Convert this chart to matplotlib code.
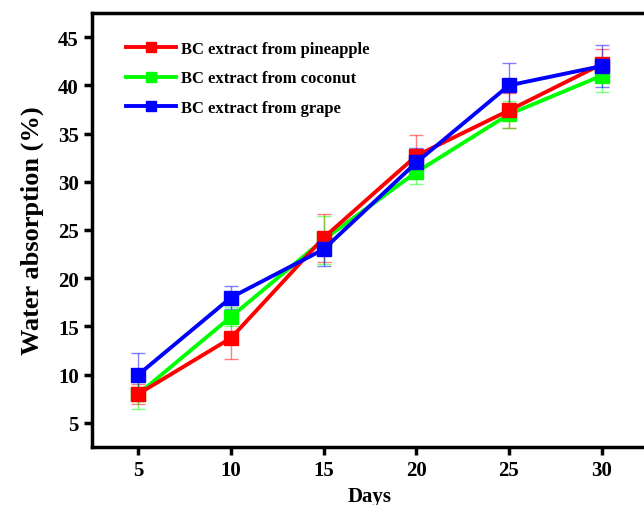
import matplotlib
matplotlib.use('Agg')
import matplotlib.pyplot as plt

days = [5, 10, 15, 20, 25, 30]

pineapple = [8.0, 13.8, 24.2, 32.7, 37.4, 42.2]
pineapple_err = [1.0, 2.2, 2.5, 2.2, 1.8, 1.6]

coconut = [8.0, 16.0, 24.0, 31.0, 37.0, 41.0]
coconut_err = [1.6, 1.0, 2.5, 1.2, 1.4, 1.7]

grape = [10.0, 18.0, 23.0, 32.0, 40.0, 42.0]
grape_err = [2.2, 1.2, 1.7, 1.5, 2.3, 2.2]

plt.rcParams['font.family'] = ['Liberation Serif', 'DejaVu Serif']
plt.rcParams['font.weight'] = 'bold'

fig = plt.figure(figsize=(6.44, 5.06), dpi=100)
ax = fig.add_axes([92 / 644, 58 / 506, 556 / 644, 434 / 506])

series = [
    ('BC extract from pineapple', pineapple, pineapple_err, '#ff0000'),
    ('BC extract from coconut', coconut, coconut_err, '#00ff00'),
    ('BC extract from grape', grape, grape_err, '#0000ff'),
]

# error bars first (thin, faded), then the lines on top
for name, vals, err, col in series:
    ax.errorbar(days, vals, yerr=err, fmt='none', ecolor=col, alpha=0.5,
                elinewidth=1, capsize=5, capthick=1, zorder=2)

for name, vals, err, col in [series[1], series[0], series[2]]:
    ax.plot(days, vals, color=col, lw=2.8, marker='s', ms=10, label=name, zorder=3)

ax.set_xlim(2.5, 32.5)
ax.set_ylim(2.5, 47.5)
ax.set_xticks(days)
ax.set_yticks(range(5, 50, 5))

for s in ax.spines.values():
    s.set_linewidth(2.5)
ax.tick_params(width=2.5, length=6, labelsize=15, direction='out')
for lab in ax.get_xticklabels() + ax.get_yticklabels():
    lab.set_fontweight('bold')

ax.set_xlabel('Days', fontsize=15, fontweight='bold', labelpad=4)
ax.set_ylabel('Water absorption (%)', fontsize=19, fontweight='bold', labelpad=10)

handles, labels = ax.get_legend_handles_labels()
order = [labels.index(s[0]) for s in series]
ax.legend([handles[i] for i in order], [labels[i] for i in order],
          loc='upper left', bbox_to_anchor=(0.035, 0.97), frameon=False,
          prop={'weight': 'bold', 'size': 12}, handlelength=3,
          markerscale=0.75, labelspacing=0.8, handletextpad=0.25)

fig.savefig('out.png', dpi=100)
